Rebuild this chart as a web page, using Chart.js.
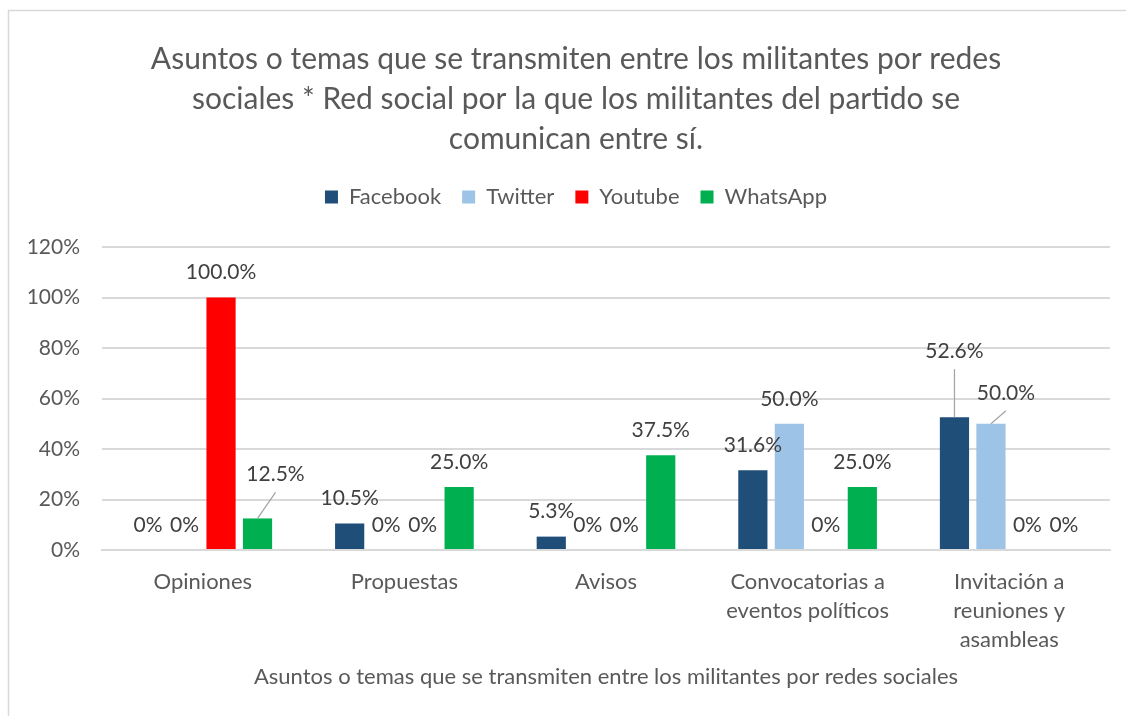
<!DOCTYPE html>
<html>
<head>
<meta charset="utf-8">
<script src="https://cdn.jsdelivr.net/npm/chart.js@4/dist/chart.umd.min.js"></script>
<style>
  html, body { margin: 0; padding: 0; background: #fff; }
  #wrap { width: 1126px; height: 716px; }
</style>
</head>
<body>
<div id="wrap"><canvas id="chart" width="1126" height="716"></canvas></div>
<script>
// data
const categories = ["Opiniones", "Propuestas", "Avisos", ["Convocatorias a", "eventos políticos"], ["Invitación a", "reuniones y", "asambleas"]];
const facebook = [0, 10.5, 5.3, 31.6, 52.6];
const twitter = [0, 0, 0, 50.0, 50.0];
const youtube = [100.0, 0, 0, 0, 0];
const whatsapp = [12.5, 25.0, 37.5, 25.0, 0];
const yTicks = [0, 20, 40, 60, 80, 100, 120];

// labels that Excel moved away from the bar, with a leader line
const movedLabels = [
  { ds: 3, i: 0, dx: 18, dy: -19 },
  { ds: 0, i: 4, dx: 0, dy: -41 },
  { ds: 1, i: 4, dx: 15, dy: -6 }
];

const FONT = "Lato, 'Open Sans', sans-serif";

// title and legend sit a little right of the canvas centre in the original
function shiftDraw(box, dx) {
  const draw = box.draw;
  box.draw = function (...args) {
    const c = this.ctx;
    c.save();
    c.translate(dx, 0);
    draw.apply(this, args);
    c.restore();
  };
}

const frame = {
  id: "frame",
  beforeInit(chart) {
    // more room between legend and plot
    const fit = chart.legend.fit;
    chart.legend.fit = function () {
      fit.call(this);
      this.height += 29;
    };
    shiftDraw(chart.legend, 21);
    shiftDraw(chart.titleBlock, 21);
  },
  beforeDraw(chart) {
    const c = chart.ctx;
    c.save();
    c.fillStyle = "#fff";
    c.fillRect(0, 0, chart.width, chart.height);
    c.strokeStyle = "#d9d9d9";
    c.lineWidth = 1.5;
    c.strokeRect(8.5, 10.5, chart.width + 20, chart.height + 20);
    c.restore();
  }
};

const barLabels = {
  id: "barLabels",
  afterDatasetsDraw(chart) {
    const c = chart.ctx;
    c.save();
    c.font = "21px " + FONT;
    c.fillStyle = "#404040";
    c.textAlign = "center";
    c.textBaseline = "middle";
    chart.data.datasets.forEach((ds, di) => {
      const meta = chart.getDatasetMeta(di);
      meta.data.forEach((bar, i) => {
        const v = ds.data[i];
        const txt = v === 0 ? "0%" : v.toFixed(1) + "%";
        let x = bar.x, y = bar.y - 25;
        const mv = movedLabels.find(m => m.ds === di && m.i === i);
        if (mv) {
          x += mv.dx;
          y += mv.dy;
          c.strokeStyle = "#a6a6a6";
          c.lineWidth = 1.3;
          c.beginPath();
          c.moveTo(x, y + 18);
          c.lineTo(bar.x, bar.y);
          c.stroke();
        }
        c.fillText(txt, x, y);
      });
    });
    c.restore();
  }
};

new Chart(document.getElementById("chart"), {
  type: "bar",
  data: {
    labels: categories,
    datasets: [
      { label: "Facebook", data: facebook, backgroundColor: "#1f4e79" },
      { label: "Twitter", data: twitter, backgroundColor: "#9dc3e6" },
      { label: "Youtube", data: youtube, backgroundColor: "#ff0000" },
      { label: "WhatsApp", data: whatsapp, backgroundColor: "#00b050" }
    ]
  },
  options: {
    responsive: false,
    animation: false,
    layout: { padding: { left: 0, right: 16, top: 0, bottom: 0 } },
    datasets: { bar: { categoryPercentage: 0.724, barPercentage: 0.8 } },
    plugins: {
      tooltip: { enabled: false },
      title: {
        display: true,
        text: [
          "Asuntos o temas que se transmiten entre los militantes por redes",
          "sociales * Red social por la que los militantes del partido se",
          "comunican entre sí."
        ],
        color: "#595959",
        font: { family: FONT, size: 30, weight: "normal", lineHeight: 40 / 30 },
        padding: { top: 39, bottom: 6 }
      },
      legend: {
        position: "top",
        labels: {
          color: "#595959",
          font: { family: FONT, size: 22 },
          boxWidth: 13,
          boxHeight: 13,
          padding: 21
        }
      }
    },
    scales: {
      x: {
        grid: { display: false },
        border: { color: "#d9d9d9", width: 2 },
        ticks: { color: "#595959", font: { family: FONT, size: 22, lineHeight: 29 / 22 }, padding: 9, maxRotation: 0, autoSkip: false },
        title: {
          display: true,
          text: "Asuntos o temas que se transmiten entre los militantes por redes sociales",
          color: "#595959",
          font: { family: FONT, size: 22 },
          padding: { top: 0, bottom: 26 }
        },
        afterFit(scale) { scale.height = 166; }
      },
      y: {
        min: 0,
        max: 120,
        afterBuildTicks(scale) { scale.ticks = yTicks.map(v => ({ value: v })); },
        grid: { color: "#d9d9d9", lineWidth: 2, drawTicks: false },
        border: { display: false },
        ticks: { color: "#595959", font: { family: FONT, size: 21 }, padding: 22, callback: v => v + "%" },
        afterFit(scale) { scale.width = 102; }
      }
    }
  },
  plugins: [frame, barLabels]
});
</script>
</body>
</html>
